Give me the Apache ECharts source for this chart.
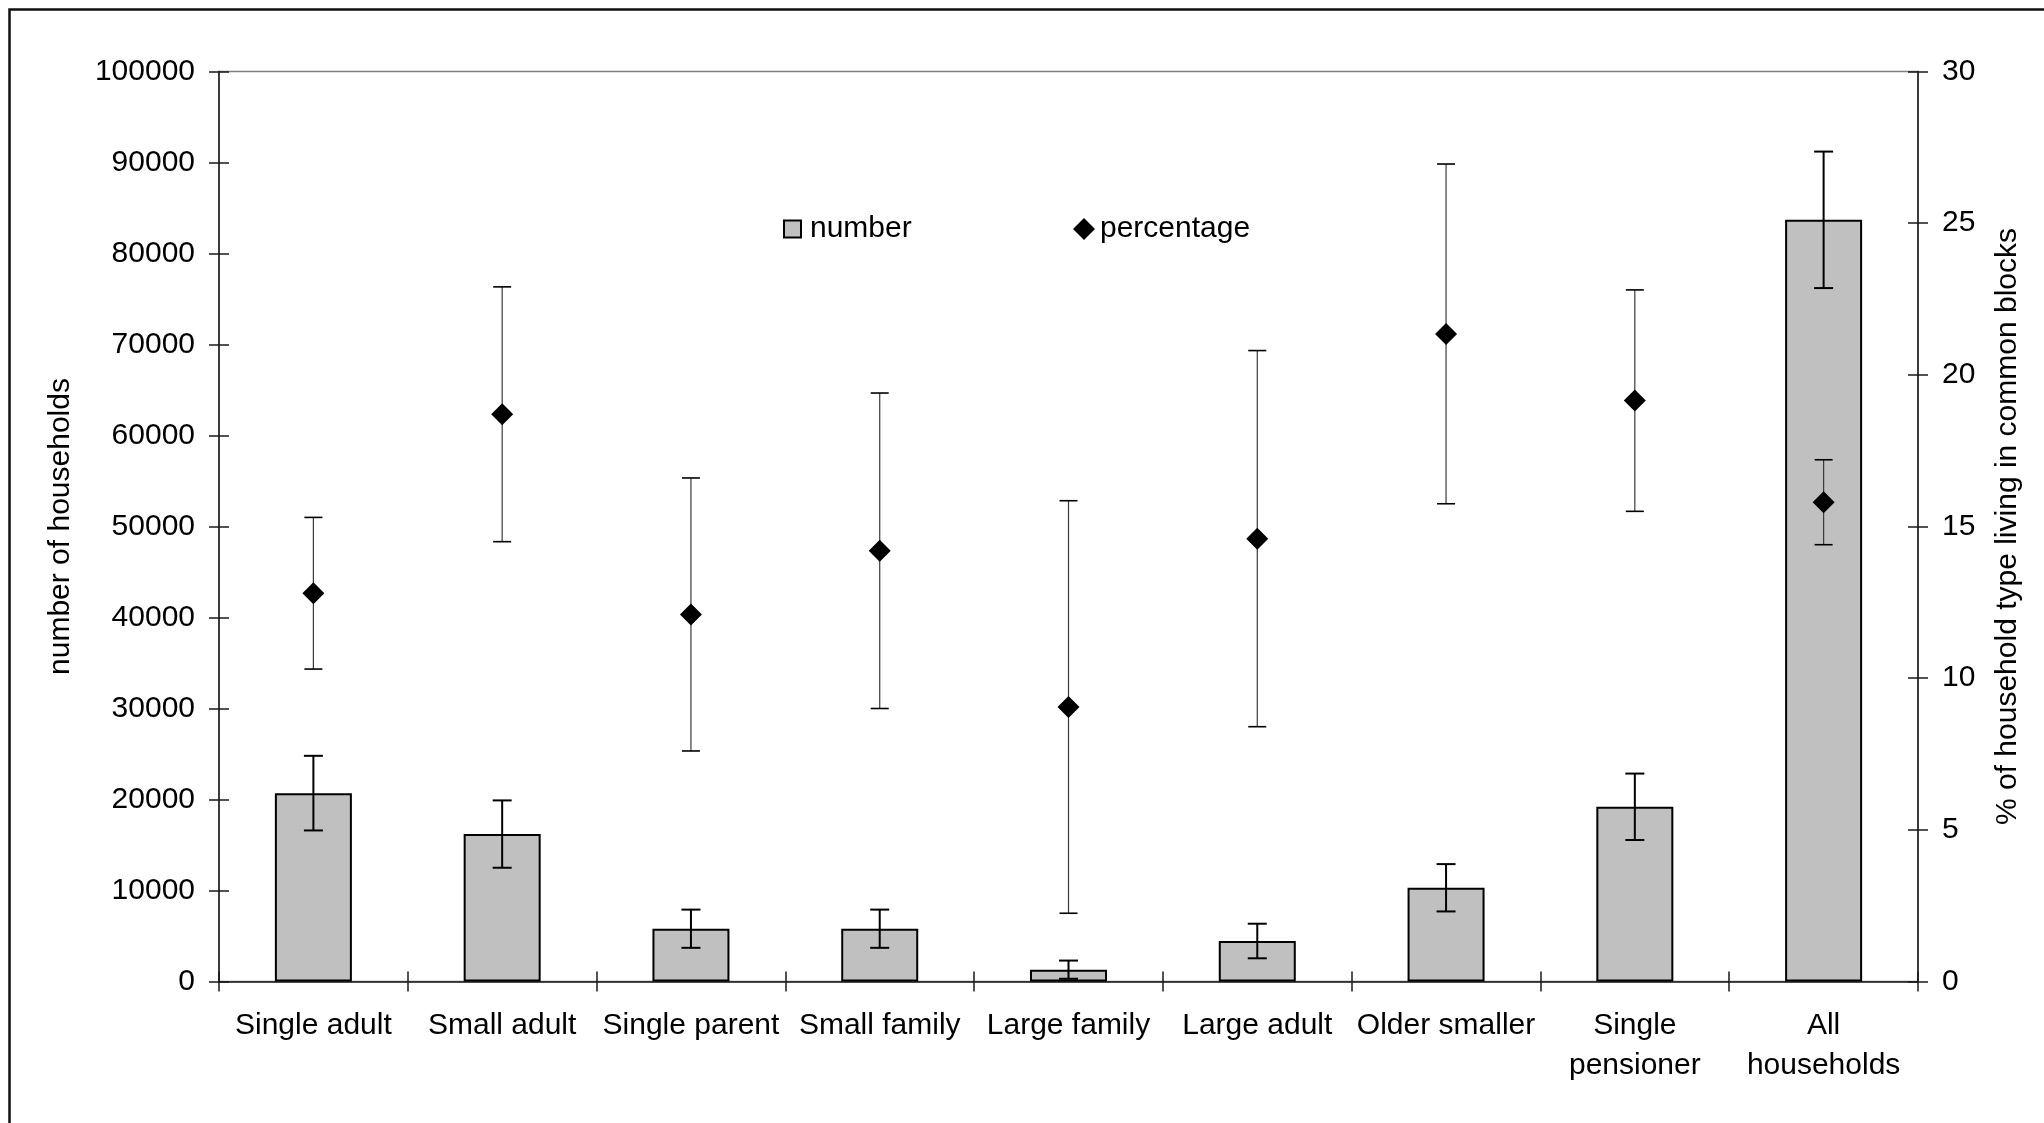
<!DOCTYPE html>
<html>
<head>
<meta charset="utf-8">
<script src="https://cdn.jsdelivr.net/npm/echarts@6/dist/echarts.min.js"></script>
<style>
  html, body { margin: 0; padding: 0; background: #ffffff; }
  #chart { width: 2044px; height: 1123px; }
</style>
</head>
<body>
<div id="chart"></div>
<script>
// Household types along the category axis
const categories = [
  'Single adult', 'Small adult', 'Single parent', 'Small family', 'Large family',
  'Large adult', 'Older smaller', 'Single\npensioner', 'All\nhouseholds'
];

// Number of households of each type living in common blocks (left axis)
const households    = [20700, 16200, 5800, 5800, 1300, 4450, 10300, 19200, 83700];
const householdsErr = [4100, 3700, 2100, 2100, 1000, 1900, 2600, 3650, 7500];

// Percentage of each household type living in common blocks (right axis)
const percentInBlocks = [12.8, 18.7, 12.1, 14.2, 9.05, 14.6, 21.35, 19.15, 15.8];
const percentErr      = [2.5, 4.2, 4.5, 5.2, 6.8, 6.2, 5.6, 3.65, 1.4];

// Axis ranges
const leftAxis  = { min: 0, max: 100000, interval: 10000 };
const rightAxis = { min: 0, max: 30, interval: 5 };

const FONT = "'Liberation Sans', Arial, Helvetica, sans-serif";
const AXIS_COLOR = '#1a1a1a';

// Vertical error bar with flat caps, drawn through the axis scales
function errorBars(name, yAxisIndex, values, errs, look, z) {
  return {
    type: 'custom',
    name: name,
    yAxisIndex: yAxisIndex,
    z: z,
    silent: true,
    data: values.map((v, i) => [i, v - errs[i], v + errs[i]]),
    encode: { x: 0, y: [1, 2] },
    renderItem: function (params, api) {
      const lo = api.coord([api.value(0), api.value(1)]);
      const hi = api.coord([api.value(0), api.value(2)]);
      const h = look.cap / 2;
      return {
        type: 'group',
        children: [
          { type: 'line', shape: { x1: lo[0], y1: lo[1], x2: hi[0], y2: hi[1] },
            style: { stroke: look.stemColor, lineWidth: look.stemWidth } },
          { type: 'line', shape: { x1: hi[0] - h, y1: hi[1], x2: hi[0] + h, y2: hi[1] },
            style: { stroke: look.capColor, lineWidth: look.capWidth } },
          { type: 'line', shape: { x1: lo[0] - h, y1: lo[1], x2: lo[0] + h, y2: lo[1] },
            style: { stroke: look.capColor, lineWidth: look.capWidth } }
        ]
      };
    }
  };
}

const chart = echarts.init(document.getElementById('chart'), null, { renderer: 'canvas' });

const tickStyle = { color: AXIS_COLOR, width: 1.5 };
const plainNumber = v => String(v);

chart.setOption({
  backgroundColor: '#ffffff',
  animation: false,
  textStyle: { fontFamily: FONT, color: '#000' },
  graphic: [
    { type: 'rect', silent: true, z: -10,
      shape: { x: 9.5, y: 9.5, width: 2100, height: 1200 },
      style: { fill: 'none', stroke: '#111', lineWidth: 2.5 } }
  ],
  grid: {
    left: 219, right: 126, top: 71.5, bottom: 141.5,
    show: true, borderColor: '#808080', borderWidth: 1.5,
    containLabel: false, outerBoundsMode: 'none'
  },
  legend: [
    {
      data: [{ name: 'number', icon: 'rect' }],
      left: 778, top: 209,
      itemWidth: 17, itemHeight: 17,
      selectedMode: false,
      textStyle: { fontSize: 30, fontFamily: FONT, color: '#000', padding: [0, 0, 0, 4] }
    },
    {
      data: [{ name: 'percentage', icon: 'diamond' }],
      left: 1068, top: 209,
      itemWidth: 22, itemHeight: 22,
      selectedMode: false,
      textStyle: { fontSize: 30, fontFamily: FONT, color: '#000' }
    }
  ],
  xAxis: [
    {
      type: 'category',
      data: categories,
      boundaryGap: true,
      axisLine: { show: true, lineStyle: { color: AXIS_COLOR, width: 1.5 } },
      axisTick: { show: true, inside: false, length: 10, lineStyle: tickStyle },
      axisLabel: { fontSize: 30, fontFamily: FONT, color: '#000', margin: 24,
                   lineHeight: 40, interval: 0 },
      splitLine: { show: false }
    },
    {
      // inner half of the crossing category ticks
      type: 'category',
      data: categories,
      position: 'bottom',
      axisLine: { show: false },
      axisTick: { show: true, inside: true, length: 10, lineStyle: tickStyle },
      axisLabel: { show: false },
      splitLine: { show: false }
    }
  ],
  yAxis: [
    {
      type: 'value', position: 'left',
      min: leftAxis.min, max: leftAxis.max, interval: leftAxis.interval,
      name: 'number of households', nameLocation: 'middle', nameGap: 143,
      nameTextStyle: { fontSize: 30, fontFamily: FONT, color: '#000' },
      axisLine: { show: true, lineStyle: { color: AXIS_COLOR, width: 1.5 } },
      axisTick: { show: true, inside: false, length: 10, lineStyle: tickStyle },
      axisLabel: { fontSize: 30, fontFamily: FONT, color: '#000', margin: 24,
                   formatter: plainNumber },
      splitLine: { show: false }
    },
    {
      type: 'value', position: 'right',
      min: rightAxis.min, max: rightAxis.max, interval: rightAxis.interval,
      name: '% of household type living in common blocks', nameLocation: 'middle',
      nameGap: 75, nameRotate: 90,
      nameTextStyle: { fontSize: 30, fontFamily: FONT, color: '#000' },
      axisLine: { show: true, lineStyle: { color: AXIS_COLOR, width: 1.5 } },
      axisTick: { show: true, inside: false, length: 10, lineStyle: tickStyle },
      axisLabel: { fontSize: 30, fontFamily: FONT, color: '#000', margin: 24,
                   formatter: plainNumber },
      splitLine: { show: false }
    },
    {
      // inner half of the crossing left ticks
      type: 'value', position: 'left',
      min: leftAxis.min, max: leftAxis.max, interval: leftAxis.interval,
      axisLine: { show: false },
      axisTick: { show: true, inside: true, length: 10, lineStyle: tickStyle },
      axisLabel: { show: false },
      splitLine: { show: false }
    },
    {
      // inner half of the crossing right ticks
      type: 'value', position: 'right',
      min: rightAxis.min, max: rightAxis.max, interval: rightAxis.interval,
      axisLine: { show: false },
      axisTick: { show: true, inside: true, length: 10, lineStyle: tickStyle },
      axisLabel: { show: false },
      splitLine: { show: false }
    }
  ],
  series: [
    {
      name: 'number',
      type: 'bar',
      yAxisIndex: 0,
      data: households,
      barWidth: 77,
      z: 2,
      itemStyle: { color: '#c0c0c0', borderColor: '#000', borderWidth: 2 }
    },
    errorBars('number error', 0, households, householdsErr,
      { cap: 19, stemColor: '#000', stemWidth: 2, capColor: '#000', capWidth: 2 }, 3),
    errorBars('percentage error', 1, percentInBlocks, percentErr,
      { cap: 18, stemColor: '#3a3a3a', stemWidth: 1.2, capColor: '#000', capWidth: 1.6 }, 4),
    {
      name: 'percentage',
      type: 'scatter',
      yAxisIndex: 1,
      data: percentInBlocks,
      symbol: 'diamond',
      symbolSize: [22, 22],
      z: 5,
      itemStyle: { color: '#000', opacity: 1 }
    }
  ]
});
</script>
</body>
</html>
